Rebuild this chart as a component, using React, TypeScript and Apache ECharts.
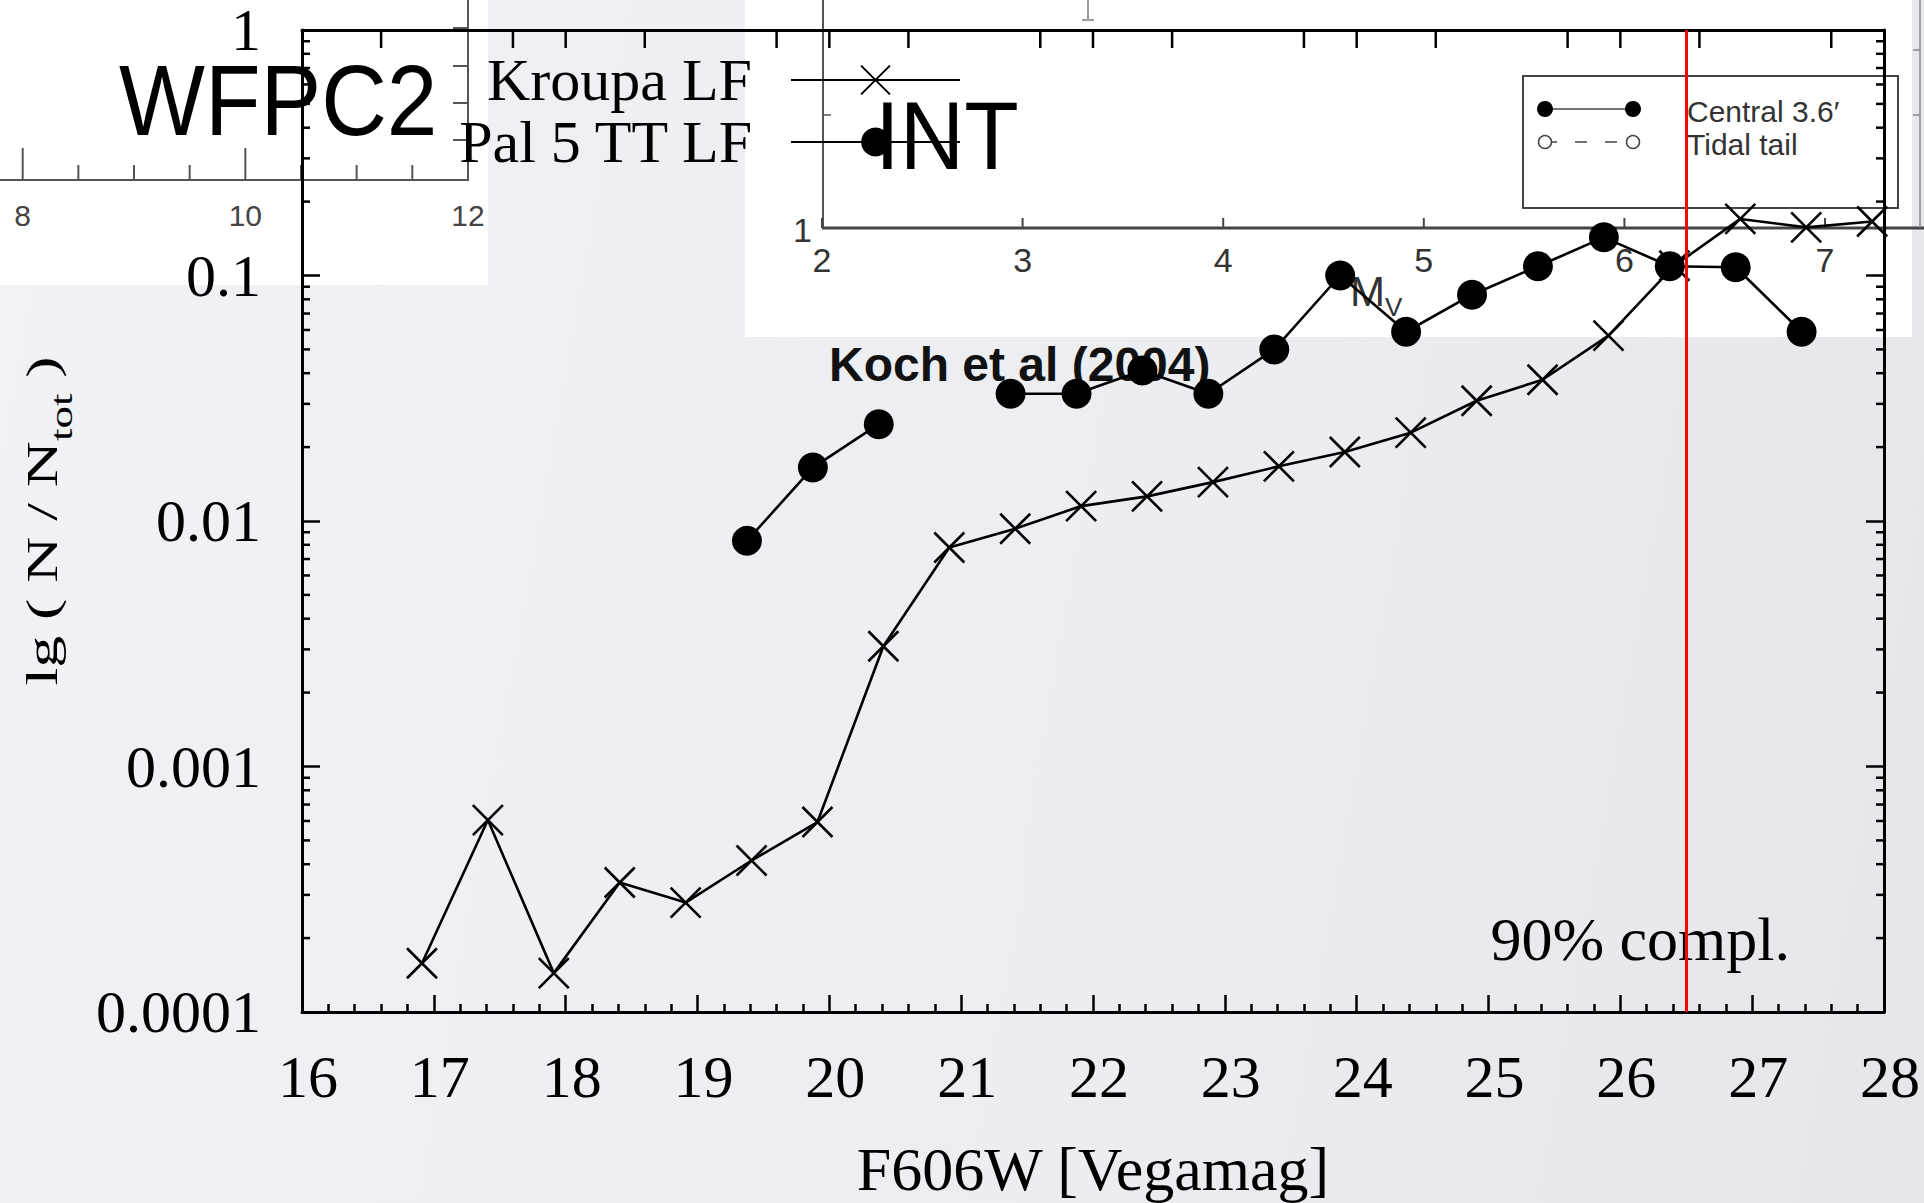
import React, { useEffect, useRef } from 'react';
import * as echarts from 'echarts';

// Kroupa model luminosity function: F606W bin centres and fraction of stars
const kroupaMag = [16.91, 17.41, 17.91, 18.41, 18.91, 19.41, 19.91, 20.41, 20.91, 21.41, 21.91, 22.41, 22.91, 23.41, 23.91, 24.41, 24.91, 25.41, 25.91, 26.41, 26.91, 27.41, 27.91];
const kroupaFrac = [0.000158, 0.000605, 0.000144, 0.000337, 0.000279, 0.000414, 0.000594, 0.00309, 0.0078, 0.0093, 0.0115, 0.0126, 0.0144, 0.0167, 0.0191, 0.0229, 0.0309, 0.0376, 0.0569, 0.1096, 0.170, 0.157, 0.166];

// Pal 5 tidal-tail luminosity function (null = empty bin, breaks the line)
const pal5Mag = [19.375, 19.875, 20.375, 20.875, 21.375, 21.875, 22.375, 22.875, 23.375, 23.875, 24.375, 24.875, 25.375, 25.875, 26.375, 26.875, 27.375];
const pal5Frac = [0.0083, 0.0165, 0.0248, null, 0.033, 0.033, 0.041, 0.033, 0.05, 0.1, 0.059, 0.0835, 0.109, 0.143, 0.109, 0.108, 0.059];

// 90% completeness limit
const completenessMag = 26.5;

// axis ticks
const yTickLabels = ['0.0001', '0.001', '0.01', '0.1', '1'];
const yMinorMantissas = [2, 3, 4, 5, 6, 7, 8, 9];
const yMinorDecades = [-4, -3, -2, -1];
const topAxisTicks = [16.6, 17.6, 18.6, 19.6, 20.6, 21.6, 22.6, 23.6, 24.6, 25.6, 26.6, 27.6, 18, 20, 22, 24, 26];

// overlaid panels
const wfpcInsetLabels = ['8', '10', '12'];
const intInsetLabels = ['2', '3', '4', '5', '6', '7'];
const intLegendLabels = ['Central 3.6\u2032', 'Tidal tail'];

const SERIF = "'Liberation Serif', 'Times New Roman', serif";
const SANS = "'Liberation Sans', Arial, Helvetica, sans-serif";

const X_MIN = 16;
const X_MAX = 28;

function txt(o: any) {
  const s = o.style || {};
  if (s.align) s.textAlign = s.align;
  if (s.verticalAlign) s.textVerticalAlign = s.verticalAlign;
  return { type: 'text', ...o, style: s };
}

function line(x1: number, y1: number, x2: number, y2: number, stroke: string, lineWidth: number, z: number, extra: any = {}) {
  return { type: 'line', silent: true, z, shape: { x1, y1, x2, y2 }, style: { stroke, lineWidth, ...extra } };
}

function buildGraphics() {
  const els: any[] = [];
  const g = '#555';

  // WFPC2 panel (upper left)
  els.push({ type: 'rect', silent: true, z: -5, shape: { x: 0, y: 0, width: 488, height: 285 }, style: { fill: '#fff' } });
  els.push(line(0, 180, 469, 180, g, 2, -4));
  els.push(line(468, 0, 468, 181, g, 2, -4));
  for (let i = 0; i <= 8; i++) {
    const x = 22.7 + i * 55.66;
    const len = i % 4 === 0 ? 32 : 15;
    els.push(line(x, 180, x, 180 - len, g, 2, -4));
  }
  [28, 66, 103, 140].forEach((y) => els.push(line(468, y, 453, y, g, 2, -4)));
  wfpcInsetLabels.forEach((t, j) =>
    els.push(txt({ silent: true, z: -4, x: 22.7 + j * 222.65, y: 215, style: { text: t, fontFamily: SANS, fontSize: 30, fill: '#444', align: 'center', verticalAlign: 'middle' } }))
  );

  // INT panel (upper right)
  els.push({ type: 'rect', silent: true, z: -5, shape: { x: 745, y: 0, width: 1167, height: 337 }, style: { fill: '#fff' } });
  els.push(line(823, 0, 823, 229, g, 2, -4));
  els.push(line(822, 228, 1924, 228, '#444', 3, -4));
  els.push(line(1920, 0, 1920, 228, '#888', 1.5, -4));
  [50, 115].forEach((y) => els.push(line(1920, y, 1913, y, '#888', 1.5, -4)));
  els.push(line(823, 115, 831, 115, g, 1.5, -4));
  els.push(line(1088, 0, 1088, 20, '#999', 2, -4));
  els.push(line(1082, 20, 1094, 20, '#999', 2, -4));
  intInsetLabels.forEach((t, i) => {
    const x = 822 + i * 200.6;
    els.push(line(x, 228, x, 218, '#444', 2, -4));
    els.push(txt({ silent: true, z: -4, x, y: 260, style: { text: t, fontFamily: SANS, fontSize: 34, fill: '#333', align: 'center', verticalAlign: 'middle' } }));
  });
  els.push(txt({ silent: true, z: -4, x: 812, y: 230, style: { text: '1', fontFamily: SANS, fontSize: 34, fill: '#333', align: 'right', verticalAlign: 'middle' } }));
  els.push(txt({
    silent: true, z: -3, x: 1350, y: 293,
    style: {
      text: '{m|M}{v|V}', align: 'left', verticalAlign: 'middle',
      rich: {
        m: { fontFamily: SANS, fontSize: 42, lineHeight: 46, verticalAlign: 'top', fill: '#333' },
        v: { fontFamily: SANS, fontSize: 26, lineHeight: 26, padding: [24, 0, 0, 0], verticalAlign: 'top', fill: '#333' },
      },
    },
  }));

  // INT panel legend box
  els.push({ type: 'rect', silent: true, z: -4, shape: { x: 1523, y: 76, width: 375, height: 132 }, style: { fill: '#fff', stroke: '#444', lineWidth: 2 } });
  els.push(line(1545, 109, 1633, 109, '#444', 1.5, -4));
  els.push({ type: 'circle', silent: true, z: -4, shape: { cx: 1545, cy: 109, r: 8 }, style: { fill: '#000' } });
  els.push({ type: 'circle', silent: true, z: -4, shape: { cx: 1633, cy: 109, r: 8 }, style: { fill: '#000' } });
  els.push(line(1545, 142, 1633, 142, '#444', 1.5, -4, { lineDash: [12, 18] }));
  els.push({ type: 'circle', silent: true, z: -4, shape: { cx: 1545, cy: 142, r: 6.5 }, style: { fill: '#fff', stroke: '#444', lineWidth: 1.5 } });
  els.push({ type: 'circle', silent: true, z: -4, shape: { cx: 1633, cy: 142, r: 6.5 }, style: { fill: '#fff', stroke: '#444', lineWidth: 1.5 } });
  intLegendLabels.forEach((t, i) =>
    els.push(txt({ silent: true, z: -4, x: 1687, y: 111 + i * 33, style: { text: t, fontFamily: SANS, fontSize: 30, lineHeight: 28, fill: '#333', align: 'left', verticalAlign: 'middle' } }))
  );

  els.push(txt({ silent: true, z: -3, x: 829, y: 364, style: { text: 'Koch et al (2004)', fontFamily: SANS, fontWeight: 'bold', fontSize: 48, fill: '#111', align: 'left', verticalAlign: 'middle' } }));

  // panel titles
  els.push(txt({ silent: true, z: 10, x: 119, y: 100, scaleX: 0.91, style: { text: 'WFPC2', fontFamily: SANS, fontSize: 100, fill: '#000', align: 'left', verticalAlign: 'middle' } }));
  els.push(txt({ silent: true, z: 10, x: 875, y: 136, scaleX: 0.93, style: { text: 'INT', fontFamily: SANS, fontSize: 96, fill: '#000', align: 'left', verticalAlign: 'middle' } }));

  // completeness note
  els.push(txt({ silent: true, z: 5, x: 1790, y: 939, style: { text: '90% compl.', fontFamily: SERIF, fontSize: 62, fill: '#000', align: 'right', verticalAlign: 'middle' } }));

  // y axis title with subscript
  els.push(txt({
    silent: true, z: 5, x: 45, y: 521, rotation: Math.PI / 2, scaleX: 1.45,
    style: {
      text: '{a|lg ( N / N}{s|tot}{a| )}', align: 'center', verticalAlign: 'middle',
      rich: {
        a: { fontFamily: SERIF, fontSize: 44, lineHeight: 50, verticalAlign: 'top', fill: '#000' },
        s: { fontFamily: SERIF, fontSize: 31, lineHeight: 24, padding: [26, 0, 0, 0], verticalAlign: 'top', fill: '#000' },
      },
    },
  }));
  return els;
}

function buildOption() {
  const axisLine = { show: true, onZero: false, lineStyle: { color: '#000', width: 3 } };
  const tickStyle = { color: '#000', width: 2.5 };
  const yMinorValues: number[] = [];
  yMinorDecades.forEach((d) => yMinorMantissas.forEach((m) => yMinorValues.push(m * Math.pow(10, d))));

  return {
    animation: false,
    backgroundColor: 'transparent',
    grid: { left: 302, right: 40, top: 30, bottom: 191, containLabel: false, outerBoundsMode: 'none' },
    legend: {
      data: ['Kroupa LF', 'Pal 5 TT LF'],
      orient: 'vertical',
      align: 'right',
      right: 958,
      top: 45,
      itemWidth: 169,
      itemHeight: 36,
      itemGap: 2,
      selectedMode: false,
      textStyle: { fontFamily: SERIF, fontSize: 60, color: '#000', padding: [0, 34, 0, 0] },
    },
    xAxis: [
      {
        type: 'value', min: X_MIN, max: X_MAX, interval: 1, position: 'bottom',
        axisLine,
        axisTick: { show: true, inside: true, length: 17, lineStyle: tickStyle },
        minorTick: { show: true, splitNumber: 5, length: 8, lineStyle: tickStyle },
        axisLabel: { margin: 35, fontFamily: SERIF, fontSize: 60, color: '#000', padding: [0, 0, 0, 12] },
        splitLine: { show: false },
        minorSplitLine: { show: false },
        name: 'F606W [Vegamag]', nameLocation: 'middle', nameGap: 129,
        nameTextStyle: { fontFamily: SERIF, fontSize: 62, lineHeight: 56, color: '#000' },
      },
      {
        type: 'value', min: X_MIN, max: X_MAX, position: 'top',
        axisLine, axisTick: { show: false }, axisLabel: { show: false }, splitLine: { show: false },
      },
    ],
    yAxis: [
      {
        type: 'log', logBase: 10, min: 0.0001, max: 1, position: 'left',
        axisLine,
        axisTick: { show: true, inside: true, length: 18, lineStyle: tickStyle },
        axisLabel: {
          margin: 41, fontFamily: SERIF, fontSize: 60, lineHeight: 50, color: '#000',
          formatter: (v: number) => yTickLabels[Math.round(Math.log10(v)) + 4] ?? '',
        },
        splitLine: { show: false },
      },
      {
        type: 'log', logBase: 10, min: 0.0001, max: 1, position: 'right',
        axisLine,
        axisTick: { show: true, inside: true, length: 18, lineStyle: tickStyle },
        axisLabel: { show: false },
        splitLine: { show: false },
      },
    ],
    series: [
      {
        name: 'Kroupa LF', type: 'line', z: 3,
        data: kroupaMag.map((m, i) => [m, kroupaFrac[i]]),
        symbol: 'path://M0,0L20,20M20,0L0,20', symbolSize: 30,
        itemStyle: { color: 'rgba(0,0,0,0)', borderColor: '#000', borderWidth: 2.6 },
        lineStyle: { color: '#000', width: 2.6 },
        markLine: {
          silent: true, symbol: ['none', 'none'], label: { show: false },
          lineStyle: { color: '#ff0000', width: 3, type: 'solid' },
          data: [{ xAxis: completenessMag }],
        },
      },
      {
        name: 'Pal 5 TT LF', type: 'line', z: 3,
        data: pal5Mag.map((m, i) => [m, pal5Frac[i] === null ? '-' : pal5Frac[i]]),
        connectNulls: false,
        symbol: 'circle', symbolSize: 30,
        itemStyle: { color: '#000' },
        lineStyle: { color: '#000', width: 2.6 },
      },
      {
        name: 'yMinorTicks', type: 'custom', silent: true, z: 4, clip: false,
        data: yMinorValues.flatMap((v) => [[X_MIN, v], [X_MAX, v]]),
        renderItem: (_p: any, api: any) => {
          const x = api.value(0);
          const p = api.coord([x, api.value(1)]);
          const dir = x < (X_MIN + X_MAX) / 2 ? 1 : -1;
          return { type: 'line', shape: { x1: p[0], y1: p[1], x2: p[0] + dir * 8, y2: p[1] }, style: { stroke: '#000', lineWidth: 2.5 } };
        },
      },
      {
        name: 'topTicks', type: 'custom', silent: true, z: 4, clip: false,
        data: topAxisTicks.map((x) => [x, 1]),
        renderItem: (_p: any, api: any) => {
          const p = api.coord([api.value(0), api.value(1)]);
          return { type: 'line', shape: { x1: p[0], y1: p[1], x2: p[0], y2: p[1] + 18 }, style: { stroke: '#000', lineWidth: 2.5 } };
        },
      },
    ],
    graphic: buildGraphics(),
  };
}

export default function App() {
  const ref = useRef<HTMLDivElement>(null);
  useEffect(() => {
    if (!ref.current) return;
    const chart = echarts.init(ref.current, undefined, { renderer: 'svg' });
    chart.setOption(buildOption() as any);
    return () => chart.dispose();
  }, []);
  return (
    <div
      ref={ref}
      style={{
        position: 'fixed', left: 0, top: 0, width: 1924, height: 1203,
        background: 'linear-gradient(100deg, #f1f2f5 0%, #ebedf1 60%, #e4e6ea 100%)',
      }}
    />
  );
}
